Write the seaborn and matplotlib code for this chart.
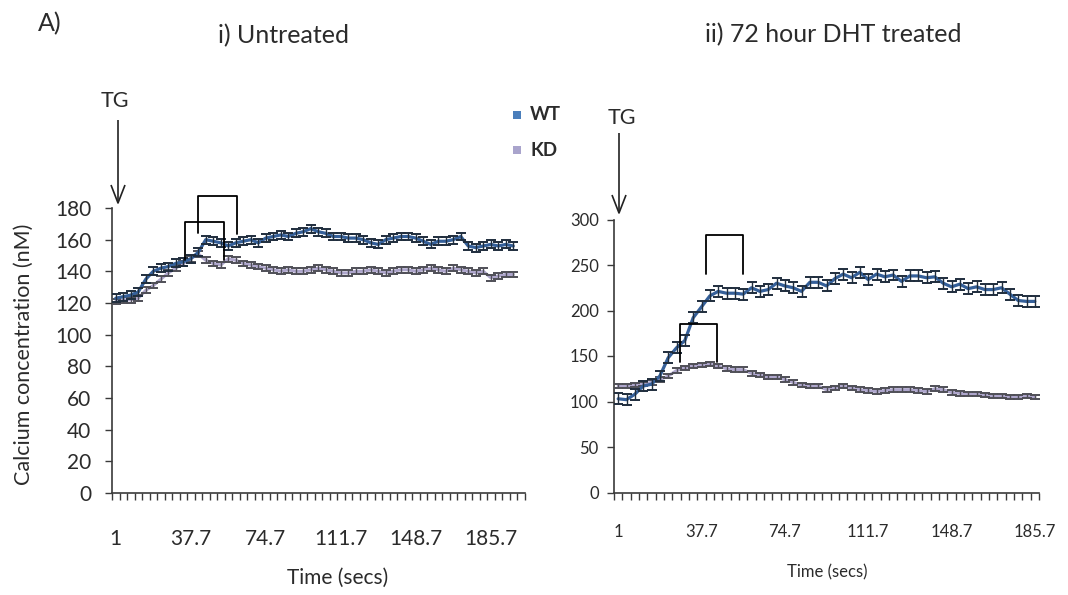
import numpy as np
import pandas as pd
import matplotlib
matplotlib.use("Agg")
import matplotlib.pyplot as plt
import seaborn as sns
from matplotlib.lines import Line2D
from matplotlib.patches import Rectangle

# ---- data -------------------------------------------------------------
time_labels = ["1", "37.7", "74.7", "111.7", "148.7", "185.7"]

# i) untreated, calcium (nM) per time point
wt_untreated = [123, 124, 125, 127, 135, 140, 142, 143, 145, 146,
                148, 152, 160, 159, 158, 156, 158, 159, 160, 158,
                161, 162, 163, 162, 164, 165, 167, 165, 164, 162,
                162, 161, 161, 160, 158, 157, 160, 161, 162, 162,
                161, 159, 157, 159, 159, 160, 162, 156, 155, 156,
                157, 156, 157, 156]
kd_untreated = [121, 122, 122, 123, 128, 131, 135, 139, 142, 145,
                148, 151, 147, 145, 144, 148, 147, 145, 144, 143,
                142, 141, 140, 141, 140, 140, 141, 142, 141, 140,
                139, 139, 140, 140, 141, 140, 139, 140, 141, 141,
                140, 141, 142, 141, 140, 142, 141, 140, 139, 140,
                136, 137, 138, 138]
sem_wt_untreated = 2.5
sem_kd_untreated = 1.8

# ii) 72 hour DHT treated
wt_dht = [103, 102, 108, 117, 119, 128, 148, 159, 167, 192,
          204, 216, 221, 219, 219, 218, 225, 221, 223, 230,
          227, 225, 221, 231, 231, 227, 235, 240, 236, 242,
          234, 240, 237, 239, 232, 238, 238, 236, 237, 230,
          226, 229, 224, 226, 223, 223, 225, 218, 211, 210,
          210]
kd_dht = [117, 117, 118, 119, 121, 124, 128, 134, 137, 139,
          140, 141, 139, 136, 135, 135, 131, 129, 127, 127,
          124, 121, 118, 117, 117, 113, 115, 117, 115, 113,
          112, 111, 112, 113, 113, 113, 112, 111, 114, 113,
          110, 109, 108, 108, 107, 106, 106, 105, 105, 106,
          105]
sem_wt_dht = 6.0
sem_kd_dht = 2.5

# ---- style ------------------------------------------------------------
sns.set_theme(style="white")
plt.rcParams["font.family"] = ["Lato", "DejaVu Sans"]

WT_LINE = "#35609a"
WT_ERR = "#1f2d3d"
KD_LINE = "#aea6cc"
KD_ERR = "#4f4f57"
WT_KEY = "#4a7ebb"
KD_KEY = "#a9a4cc"
AXIS = "#3a3a3a"
TEXT = "#2b2b2b"

W, H = 1068, 595
fig = plt.figure(figsize=(W / 100, H / 100), dpi=100)
fig.patch.set_facecolor("white")


def axes_px(left, top, right, bottom):
    return fig.add_axes([left / W, 1 - bottom / H, (right - left) / W, (bottom - top) / H])


def fig_line(xs, ys, lw=1.2):
    fig.add_artist(Line2D([x / W for x in xs], [1 - y / H for y in ys],
                          color="#222222", lw=lw, solid_capstyle="butt"))


def fig_text(x, y, s, **kw):
    kw.setdefault("color", TEXT)
    fig.text(x / W, 1 - y / H, s, **kw)


def draw_panel(ax, wt, kd, sem_wt, sem_kd, ncat, ymax, ystep,
               tick_fs, xpad, ypad):
    x = np.arange(len(wt))
    sns.lineplot(x=x, y=kd, color=KD_LINE, linewidth=2.2, ax=ax, zorder=2)
    ax.errorbar(x, kd, yerr=sem_kd, fmt="none", ecolor=KD_ERR,
                elinewidth=1.0, capsize=3.4, capthick=1.4, zorder=3)
    sns.lineplot(x=x, y=wt, color=WT_LINE, linewidth=2.3, ax=ax, zorder=4)
    ax.errorbar(x, wt, yerr=sem_wt, fmt="none", ecolor=WT_ERR,
                elinewidth=1.0, capsize=3.4, capthick=1.4, zorder=5)

    ax.set_xlim(-0.5, ncat - 0.5)
    ax.set_ylim(0, ymax)
    ax.set_yticks(np.arange(0, ymax + 1, ystep))
    ax.set_xticks(np.arange(0, 10 * len(time_labels), 10))
    ax.set_xticklabels(time_labels)
    ax.set_xticks(np.arange(-0.5, ncat, 1.0), minor=True)
    ax.tick_params(axis="x", which="major", length=0, pad=xpad,
                   labelsize=tick_fs, labelcolor=TEXT, bottom=True)
    ax.tick_params(axis="x", which="minor", length=5, width=1.0,
                   color=AXIS, direction="out", bottom=True)
    ax.tick_params(axis="y", which="major", length=5, width=1.0,
                   color=AXIS, direction="out", pad=ypad,
                   labelsize=tick_fs, labelcolor=TEXT, left=True)
    for side in ("top", "right"):
        ax.spines[side].set_visible(False)
    for side in ("left", "bottom"):
        ax.spines[side].set_color(AXIS)
        ax.spines[side].set_linewidth(1.2)
    ax.set_xlabel("")
    ax.set_ylabel("")
    ax.grid(False)
    ax.set_facecolor("none")


def bracket(ax, x0, x1, y_left, y_top, y_right):
    ax.plot([x0, x0, x1, x1], [y_left, y_top, y_top, y_right],
            color="black", lw=1.3, clip_on=False, zorder=6)


# ---- panel i) ---------------------------------------------------------
ax1 = axes_px(112, 208, 524.5, 493)
draw_panel(ax1, wt_untreated, kd_untreated, sem_wt_untreated, sem_kd_untreated,
           ncat=55, ymax=180, ystep=20, tick_fs=15, xpad=26, ypad=10)
bracket(ax1, 9.23, 14.43, 147.2, 170.9, 147.0)
bracket(ax1, 10.97, 16.17, 164.2, 187.8, 163.6)

# ---- panel ii) --------------------------------------------------------
ax2 = axes_px(614, 219.5, 1039, 492.5)
draw_panel(ax2, wt_dht, kd_dht, sem_wt_dht, sem_kd_dht,
           ncat=51, ymax=300, ystep=50, tick_fs=12, xpad=23, ypad=6)
bracket(ax2, 10.54, 15.0, 240, 283, 240)
bracket(ax2, 7.42, 11.9, 143, 185.5, 143)

# ---- titles, axis titles ---------------------------------------------
fig_text(50, 24, "A)", fontsize=18, ha="center", va="center")
fig_text(283, 36, "i) Untreated", fontsize=18, ha="center", va="center")
fig_text(833, 35, "ii) 72 hour DHT treated", fontsize=18, ha="center", va="center")
fig_text(24, 354, "Calcium concentration (nM)", fontsize=15.5, rotation=90,
         ha="center", va="center")
fig_text(338, 578, "Time (secs)", fontsize=15, ha="center", va="center")
fig_text(827, 572, "Time (secs)", fontsize=12, ha="center", va="center")

# ---- thapsigargin addition arrows ------------------------------------
fig_text(115, 101, "TG", fontsize=15.5, ha="center", va="center")
fig_line([118, 118], [120, 203])
fig_line([111, 118, 125], [185, 203, 185])

fig_text(622, 118, "TG", fontsize=15.5, ha="center", va="center")
fig_line([619, 619], [133, 213])
fig_line([612, 619, 626], [195, 213, 195])

# ---- key --------------------------------------------------------------
for (label, colour, yc) in (("WT", WT_KEY, 115), ("KD", KD_KEY, 150)):
    fig.add_artist(Rectangle((513 / W, 1 - (yc + 4) / H), 8 / W, 8 / H,
                             facecolor=colour, edgecolor="none",
                             transform=fig.transFigure))
    fig_text(530, yc, label, fontsize=13.5, fontweight="bold",
             ha="left", va="center")

fig.savefig("out.png", dpi=100, facecolor="white")
